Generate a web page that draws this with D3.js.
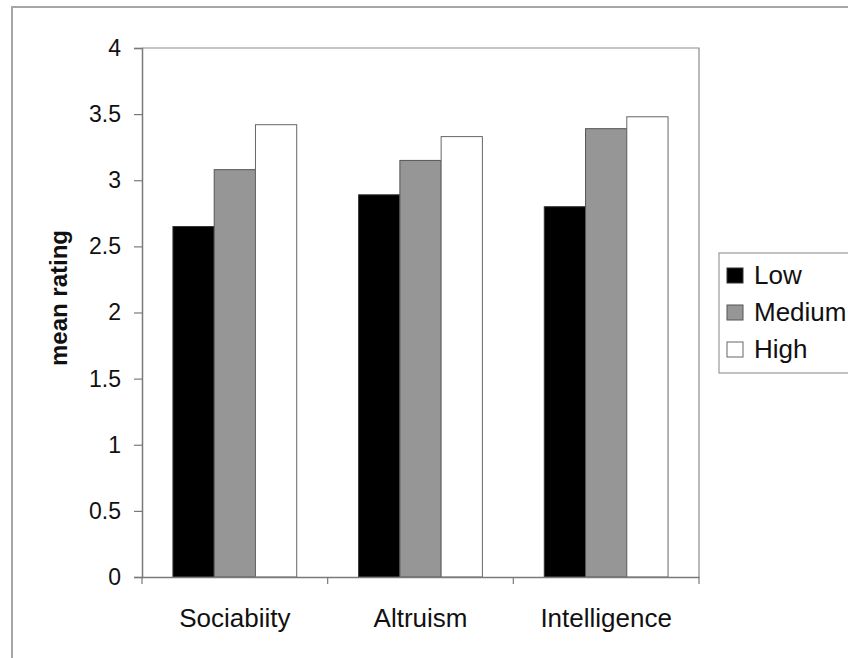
<!DOCTYPE html>
<html>
<head>
<meta charset="utf-8">
<script src="https://cdn.jsdelivr.net/npm/d3@7"></script>
<style>
  html, body { margin: 0; padding: 0; background: #fff; }
  svg { display: block; font-family: "Liberation Sans", Arial, sans-serif; }
</style>
</head>
<body>
<svg id="chart" width="848" height="658"></svg>
<script>
const categories = ["Sociabiity", "Altruism", "Intelligence"];
const seriesNames = ["Low", "Medium", "High"];
const lowValues = [2.65, 2.89, 2.80];
const mediumValues = [3.08, 3.15, 3.39];
const highValues = [3.42, 3.33, 3.48];
const yTicks = [0, 0.5, 1, 1.5, 2, 2.5, 3, 3.5, 4];
const yLabel = "mean rating";

const seriesValues = [lowValues, mediumValues, highValues];
const fills = ["#000000", "#969696", "#ffffff"];
const strokes = ["#333333", "#555555", "#666666"];

const svg = d3.select("#chart");
const W = 848, H = 658;
const plot = { left: 142, right: 699, top: 48, bottom: 577 };

// outer chart frame
svg.append("rect")
  .attr("x", 12).attr("y", 7)
  .attr("width", W + 20).attr("height", H + 20)
  .attr("fill", "#fff").attr("stroke", "#a6a6a6").attr("stroke-width", 2);

const x0 = d3.scaleBand().domain(categories).range([plot.left, plot.right]).paddingInner(0).paddingOuter(0);
const x1 = d3.scaleBand().domain(seriesNames).range([0, x0.bandwidth()]).paddingInner(0).paddingOuter(0.75);
const y = d3.scaleLinear().domain([0, 4]).range([plot.bottom, plot.top]);

// plot area border (top & right)
svg.append("path")
  .attr("d", `M${plot.left},${plot.top}H${plot.right}V${plot.bottom}`)
  .attr("fill", "none").attr("stroke", "#8c8c8c").attr("stroke-width", 1.2);

// bars
const groups = svg.append("g").selectAll("g")
  .data(categories).join("g")
  .attr("transform", d => `translate(${x0(d)},0)`);
groups.selectAll("rect")
  .data((c, ci) => seriesNames.map((s, si) => ({ s, si, v: seriesValues[si][ci] })))
  .join("rect")
  .attr("x", d => x1(d.s))
  .attr("width", x1.bandwidth())
  .attr("y", d => y(d.v))
  .attr("height", d => y(0) - y(d.v))
  .attr("fill", d => fills[d.si])
  .attr("stroke", d => strokes[d.si])
  .attr("stroke-width", 1);

// y axis
const yAxis = d3.axisLeft(y).tickValues(yTicks).tickFormat(d3.format("")).tickSize(8).tickPadding(13);
const gy = svg.append("g").attr("transform", `translate(${plot.left},0)`).call(yAxis);
gy.select(".domain").attr("stroke", "#7a7a7a").attr("stroke-width", 1.5);
gy.selectAll(".tick line").attr("stroke", "#7a7a7a").attr("stroke-width", 1.2);
gy.selectAll(".tick text")
  .attr("font-size", 23).attr("fill", "#111")
  .attr("font-family", "'Liberation Sans', Arial, sans-serif");

// x axis
const xAxis = d3.axisBottom(x0).tickSize(0).tickPadding(0).tickFormat(() => "");
const gx = svg.append("g").attr("transform", `translate(0,${plot.bottom})`).call(xAxis);
gx.select(".domain").attr("stroke", "#7a7a7a").attr("stroke-width", 1.5);
// category boundary ticks
const boundaries = categories.map(c => x0(c)).concat([x0.range()[1]]);
svg.append("g").selectAll("line").data(boundaries).join("line")
  .attr("x1", d => d).attr("x2", d => d)
  .attr("y1", plot.bottom).attr("y2", plot.bottom + 7)
  .attr("stroke", "#7a7a7a").attr("stroke-width", 1.2);
svg.append("g").selectAll("text").data(categories).join("text")
  .attr("x", d => x0(d) + x0.bandwidth() / 2)
  .attr("y", 627)
  .attr("text-anchor", "middle")
  .attr("font-size", 26).attr("fill", "#111")
  .text(d => d);

// y label
svg.append("text")
  .attr("transform", `translate(67,298) rotate(-90)`)
  .attr("text-anchor", "middle")
  .attr("font-size", 24).attr("font-weight", "bold").attr("fill", "#111")
  .text(yLabel);

// legend
const lg = svg.append("g").attr("transform", "translate(719,253)");
lg.append("rect").attr("x", 0).attr("y", 0).attr("width", 160).attr("height", 120)
  .attr("fill", "#fff").attr("stroke", "#999").attr("stroke-width", 1.2);
const items = lg.selectAll("g.item").data(seriesNames).join("g")
  .attr("class", "item")
  .attr("transform", (d, i) => `translate(8,${15 + i * 37})`);
items.append("rect").attr("width", 16).attr("height", 15)
  .attr("fill", (d, i) => fills[i]).attr("stroke", (d, i) => strokes[i]).attr("stroke-width", 1);
items.append("text").attr("x", 27).attr("y", 16)
  .attr("font-size", 26).attr("fill", "#111")
  .text(d => d);
</script>
</body>
</html>
